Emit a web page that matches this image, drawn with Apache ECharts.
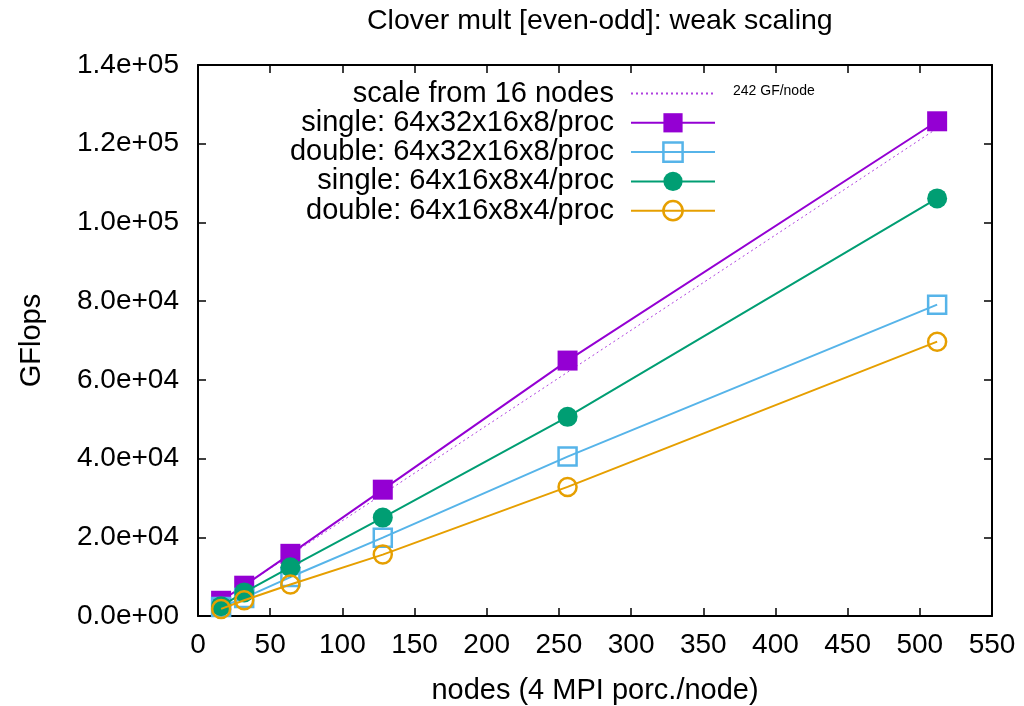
<!DOCTYPE html>
<html>
<head>
<meta charset="utf-8">
<script src="https://cdn.jsdelivr.net/npm/echarts@6/dist/echarts.min.js"></script>
<style>
html,body{margin:0;padding:0;background:#fff;}
#c{width:1024px;height:706px;}
</style>
</head>
<body>
<div id="c"></div>
<script>
var nodes = [16, 32, 64, 128, 256, 512];
var singleLarge = [3870, 7700, 15800, 32100, 64900, 125700];
var doubleLarge = [2300, 4600, 9900, 19900, 40500, 79100];
var singleSmall = [2500, 6000, 12400, 25000, 50600, 106100];
var doubleSmall = [1800, 4000, 8000, 15600, 32800, 69700];
var scaleNodes = [16, 512];
var gfPerNode = 242;
var xTicks = {min: 0, max: 550, interval: 50};
var yTicks = {min: 0, max: 140000, interval: 20000};

var names = [
  'scale from 16 nodes',
  'single: 64x32x16x8/proc',
  'double: 64x32x16x8/proc',
  'single: 64x16x8x4/proc',
  'double: 64x16x8x4/proc'
];
var colors = ['#9400d3', '#9400d3', '#56b4e9', '#009e73', '#e69f00'];
var symbols = ['none', 'rect', 'rect', 'circle', 'circle'];
var hollow = [false, false, true, false, true];
var seriesData = [
  scaleNodes.map(function(n){ return [n, n * gfPerNode]; }),
  nodes.map(function(n, i){ return [n, singleLarge[i]]; }),
  nodes.map(function(n, i){ return [n, doubleLarge[i]]; }),
  nodes.map(function(n, i){ return [n, singleSmall[i]]; }),
  nodes.map(function(n, i){ return [n, doubleSmall[i]]; })
];

var FONT = 'Liberation Sans';
var FS = 29;
var TFS = 28;

function fmtExp(v) {
  var s = Number(v).toExponential(1);
  var parts = s.split('e');
  var sign = parts[1][0];
  var d = parts[1].slice(1);
  if (d.length < 2) d = '0' + d;
  return parts[0] + 'e' + sign + d;
}

function markerStyle(i) {
  return {
    color: hollow[i] ? 'rgba(255,255,255,0)' : colors[i],
    borderColor: colors[i],
    borderWidth: hollow[i] ? 2.5 : 0
  };
}

var series = names.map(function(nm, i){
  var isScale = i === 0;
  return {
    name: nm,
    type: 'line',
    data: seriesData[i],
    symbol: symbols[i],
    symbolSize: isScale ? 0 : (hollow[i] ? 18 : 20),
    showSymbol: !isScale,
    z: 2 + i,
    itemStyle: markerStyle(i),
    lineStyle: {color: colors[i], width: isScale ? 1 : 2, type: isScale ? [2, 3] : 'solid', opacity: isScale ? 0.75 : 1},
    emphasis: {disabled: true},
    animation: false
  };
});

var legendRight = 1024 - 716;
var legendTop0 = 79;
var legendStep = 29.3;
var legends = names.map(function(nm, i){
  var item = {name: nm};
  if (i === 0) item.itemStyle = {opacity: 0};
  else item.itemStyle = markerStyle(i);
  return {
    data: [item],
    orient: 'vertical',
    align: 'right',
    right: legendRight,
    top: legendTop0 + i * legendStep,
    itemWidth: 84,
    itemHeight: 24,
    itemGap: 0,
    padding: 0,
    selectedMode: false,
    textStyle: {fontFamily: FONT, fontSize: FS, color: '#000', padding: [0, 12, 0, 0]}
  };
});

var axisCommon = {
  axisLine: {show: true, onZero: false, lineStyle: {color: '#000', width: 2}},
  axisTick: {show: true, inside: true, length: 8, lineStyle: {color: '#000', width: 1.5}},
  splitLine: {show: false}
};

var option = {
  animation: false,
  backgroundColor: '#fff',
  title: {
    text: 'Clover mult [even-odd]: weak scaling',
    left: 362, top: 2,
    textStyle: {fontFamily: FONT, fontSize: 28.5, fontWeight: 'normal', color: '#000'}
  },
  legend: legends,
  grid: {left: 198, right: 32, top: 65, bottom: 90, containLabel: false, outerBoundsMode: 'none'},
  xAxis: [
    Object.assign({
      type: 'value', position: 'bottom',
      min: xTicks.min, max: xTicks.max, interval: xTicks.interval,
      name: 'nodes (4 MPI porc./node)', nameLocation: 'middle', nameGap: 60,
      nameTextStyle: {fontFamily: FONT, fontSize: FS, color: '#000'},
      axisLabel: {fontFamily: FONT, fontSize: TFS, color: '#000', margin: 15}
    }, axisCommon),
    Object.assign({
      type: 'value', position: 'top',
      min: xTicks.min, max: xTicks.max, interval: xTicks.interval,
      axisLabel: {show: false}
    }, axisCommon)
  ],
  yAxis: [
    Object.assign({
      type: 'value', position: 'left',
      min: yTicks.min, max: yTicks.max, interval: yTicks.interval,
      name: 'GFlops', nameLocation: 'middle', nameGap: 152, nameRotate: 90,
      nameTextStyle: {fontFamily: FONT, fontSize: FS, color: '#000'},
      axisLabel: {fontFamily: FONT, fontSize: TFS, color: '#000', margin: 19, formatter: fmtExp}
    }, axisCommon),
    Object.assign({
      type: 'value', position: 'right',
      min: yTicks.min, max: yTicks.max, interval: yTicks.interval,
      axisLabel: {show: false}
    }, axisCommon)
  ],
  graphic: [{
    type: 'text', left: 733, top: 84,
    style: {text: gfPerNode + ' GF/node', fontFamily: FONT, fontSize: 14, fill: '#000'}
  }],
  series: series
};

var chart = echarts.init(document.getElementById('c'), null, {renderer: 'canvas'});
chart.setOption(option);
</script>
</body>
</html>
